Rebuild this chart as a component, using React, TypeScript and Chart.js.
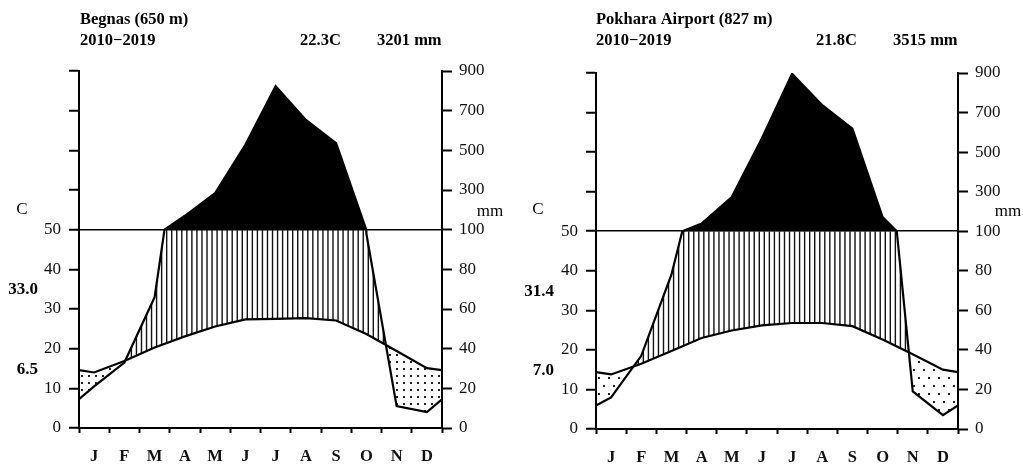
import React, { useEffect, useRef } from 'react';
import { Chart, registerables } from 'chart.js';

Chart.register(...registerables);
Chart.defaults.font.family = '"Liberation Serif", "Times New Roman", serif';

// ---------- data ----------
const months = ['J', 'F', 'M', 'A', 'M', 'J', 'J', 'A', 'S', 'O', 'N', 'D'];
const tempTickLabels = ['0', '10', '20', '30', '40', '50', '', '', '', ''];
const precipTickLabels = ['0', '20', '40', '60', '80', '100', '300', '500', '700', '900'];

// Begnas (650 m)
const begnasTemp = [14.0, 16.9, 20.3, 23.1, 25.6, 27.4, 27.5, 27.7, 27.1, 23.7, 19.4, 15.1];
const begnasTempEdge = 14.6;
const begnasPrecip = [21, 33, 66, 170, 284, 528, 824, 653, 536, 98, 11, 8];
const begnasPrecipEdge = 14.5;

// Pokhara Airport (827 m)
const pokharaTemp = [13.8, 16.5, 19.7, 23.0, 24.9, 26.2, 26.8, 26.8, 26.0, 22.6, 18.9, 15.0];
const pokharaTempEdge = 14.4;
const pokharaPrecip = [16, 37, 78, 139, 273, 570, 896, 737, 619, 172, 19, 7];
const pokharaPrecipEdge = 11.9;

// ---------- helpers ----------
type Pt = { x: number; y: number };

function precipDisplay(p: number) {
  return p <= 100 ? p / 2 : 50 + (p - 100) / 20;
}

function buildTemp(vals: number[], edge: number): Pt[] {
  const pts: Pt[] = [{ x: 0, y: edge }];
  vals.forEach((v, i) => pts.push({ x: i + 0.5, y: v }));
  pts.push({ x: 12, y: edge });
  return pts;
}

// precipitation in mm; the curve is linear in mm below 100 and compressed above
function buildPrecip(vals: number[], edge: number): Pt[] {
  const xs = [0, ...vals.map((_, i) => i + 0.5), 12];
  const raw = [edge, ...vals, edge];
  const pts: Pt[] = [];
  for (let i = 0; i < raw.length; i++) {
    if (i > 0) {
      const a = raw[i - 1];
      const b = raw[i];
      if ((a - 100) * (b - 100) < 0) {
        const f = (100 - a) / (b - a);
        pts.push({ x: xs[i - 1] + f * (xs[i] - xs[i - 1]), y: 50 });
      }
    }
    pts.push({ x: xs[i], y: precipDisplay(raw[i]) });
  }
  return pts;
}

type PanelCfg = {
  title: string;
  period: string;
  meanT: string;
  totalP: string;
  maxLabel: string;
  minLabel: string;
  temp: number[];
  tempEdge: number;
  precip: number[];
  precipEdge: number;
  left: number;
  width: number;
  leftW: number;
  rightW: number;
  top: number;
  bottomH: number;
  dotDx: number;
  dotDy: number;
  stagger: boolean;
  txt: {
    titleX: number;
    meanX: number;
    totX: number;
    cX: number;
    mmX: number;
    extRight: number;
    maxY: number;
    minY: number;
  };
};

const panels: PanelCfg[] = [
  {
    title: 'Begnas (650 m)',
    period: '2010\u22122019',
    meanT: '22.3C',
    totalP: '3201 mm',
    maxLabel: '33.0',
    minLabel: '6.5',
    temp: begnasTemp,
    tempEdge: begnasTempEdge,
    precip: begnasPrecip,
    precipEdge: begnasPrecipEdge,
    left: 0,
    width: 511,
    leftW: 79,
    rightW: 69,
    top: 71,
    bottomH: 38,
    dotDx: 7,
    dotDy: 7,
    stagger: false,
    txt: { titleX: 80, meanX: 300, totX: 377, cX: 22, mmX: 490, extRight: 38, maxY: 290, minY: 370 },
  },
  {
    title: 'Pokhara Airport (827 m)',
    period: '2010\u22122019',
    meanT: '21.8C',
    totalP: '3515 mm',
    maxLabel: '31.4',
    minLabel: '7.0',
    temp: pokharaTemp,
    tempEdge: pokharaTempEdge,
    precip: pokharaPrecip,
    precipEdge: pokharaPrecipEdge,
    left: 511,
    width: 512,
    leftW: 85,
    rightW: 65,
    top: 73,
    bottomH: 37,
    dotDx: 10,
    dotDy: 8,
    stagger: true,
    txt: { titleX: 85, meanX: 305, totX: 382, cX: 27, mmX: 497, extRight: 43, maxY: 292, minY: 371 },
  },
];

function Panel({ cfg }: { cfg: PanelCfg }) {
  const ref = useRef<HTMLCanvasElement | null>(null);

  useEffect(() => {
    if (!ref.current) return;
    const tempData = buildTemp(cfg.temp, cfg.tempEdge);
    const precipData = buildPrecip(cfg.precip, cfg.precipEdge);

    const fillPlugin = {
      id: 'walterFill',
      beforeDatasetsDraw(chart: any) {
        const { ctx, chartArea: a, scales } = chart;
        const xs = scales.x;
        const ys = scales.y;
        const tp = tempData.map((p) => [xs.getPixelForValue(p.x), ys.getPixelForValue(p.y)]);
        const pp = precipData.map((p) => [xs.getPixelForValue(p.x), ys.getPixelForValue(p.y)]);
        const y50 = ys.getPixelForValue(50);
        const poly = (pts: number[][], yClose: number) => {
          ctx.beginPath();
          ctx.moveTo(pts[0][0], pts[0][1]);
          for (let i = 1; i < pts.length; i++) ctx.lineTo(pts[i][0], pts[i][1]);
          ctx.lineTo(pts[pts.length - 1][0], yClose);
          ctx.lineTo(pts[0][0], yClose);
          ctx.closePath();
        };
        // black: precipitation above 100 mm
        ctx.save();
        ctx.beginPath();
        ctx.rect(a.left, a.top - 2, a.right - a.left, y50 - a.top + 2);
        ctx.clip();
        poly(pp, a.bottom);
        ctx.fillStyle = '#000';
        ctx.fill();
        ctx.restore();
        // vertical hatching: humid period
        ctx.save();
        ctx.beginPath();
        ctx.rect(a.left, y50, a.right - a.left, a.bottom - y50);
        ctx.clip();
        poly(pp, a.bottom);
        ctx.clip();
        poly(tp, a.top);
        ctx.clip();
        ctx.strokeStyle = '#111';
        ctx.lineWidth = 1.4;
        ctx.beginPath();
        for (let x = a.left + 2; x < a.right; x += 5.04) {
          ctx.moveTo(x, y50);
          ctx.lineTo(x, a.bottom);
        }
        ctx.stroke();
        ctx.restore();
        // dots: dry period
        ctx.save();
        poly(tp, a.bottom);
        ctx.clip();
        poly(pp, a.top);
        ctx.clip();
        ctx.fillStyle = '#222';
        let row = 0;
        for (let y = a.bottom - 3; y > a.top; y -= cfg.dotDy, row++) {
          const off = cfg.stagger && row % 2 ? cfg.dotDx / 2 : 0;
          for (let x = a.left + 3 + off; x < a.right; x += cfg.dotDx) {
            ctx.fillRect(x - 1, y - 1, 2, 2);
          }
        }
        ctx.restore();
      },
      afterDraw(chart: any) {
        const ctx = chart.ctx;
        const t = cfg.txt;
        ctx.save();
        ctx.fillStyle = '#000';
        ctx.textBaseline = 'middle';
        const put = (s: string, x: number, y: number, align: string, bold: boolean, size = 16) => {
          ctx.font = `${bold ? 'bold ' : ''}${size}px "Liberation Serif", "Times New Roman", serif`;
          ctx.textAlign = align;
          ctx.fillText(s, x, y);
        };
        put(cfg.title, t.titleX, 20, 'left', true, 16.5);
        put(cfg.period, t.titleX, 41, 'left', true, 16.5);
        put(cfg.meanT, t.meanX, 41, 'left', true, 16.5);
        put(cfg.totalP, t.totX, 41, 'left', true, 16.5);
        put('C', t.cX, 210, 'center', false, 17);
        put('mm', t.mmX, 212, 'center', false, 17);
        put(cfg.maxLabel, t.extRight, t.maxY, 'right', true, 17);
        put(cfg.minLabel, t.extRight, t.minY, 'right', true, 17);
        ctx.restore();
      },
    };

    const chart = new Chart(ref.current, {
      type: 'line',
      data: {
        datasets: [
          {
            data: tempData,
            borderColor: '#000',
            borderWidth: 2.2,
            pointRadius: 0,
            tension: 0,
            fill: false,
            yAxisID: 'y',
          },
          {
            data: precipData,
            borderColor: '#000',
            borderWidth: 2.2,
            pointRadius: 0,
            tension: 0,
            fill: false,
            yAxisID: 'y',
          },
        ],
      },
      options: {
        animation: false,
        responsive: false,
        events: [],
        layout: { padding: { top: cfg.top, left: 0, right: 0, bottom: 0 } },
        plugins: { legend: { display: false }, tooltip: { enabled: false } },
        scales: {
          x: {
            type: 'linear',
            min: 0,
            max: 12,
            afterFit: (s: any) => {
              s.height = cfg.bottomH;
            },
            ticks: {
              stepSize: 0.5,
              maxTicksLimit: 100,
              autoSkip: false,
              maxRotation: 0,
              minRotation: 0,
              padding: 14,
              color: '#111',
              font: { size: 16.5, weight: 'bold' },
              callback: (v: any) => (Math.abs((v % 1) - 0.5) < 1e-6 ? months[Math.floor(v)] : ''),
            },
            grid: {
              drawOnChartArea: false,
              tickLength: 5,
              tickWidth: 2,
              tickColor: (c: any) =>
                c.tick && Math.abs(c.tick.value - Math.round(c.tick.value)) < 1e-6 ? '#000' : 'rgba(0,0,0,0)',
            },
            border: { display: true, color: '#000', width: 2 },
          },
          y: {
            position: 'left',
            min: 0,
            max: 90,
            afterFit: (s: any) => {
              s.width = cfg.leftW;
            },
            ticks: {
              stepSize: 10,
              padding: 8,
              color: '#111',
              font: { size: 17 },
              callback: (_v: any, i: number) => tempTickLabels[i],
            },
            grid: {
              color: (c: any) => (c.tick && c.tick.value === 50 ? '#000' : 'rgba(0,0,0,0)'),
              lineWidth: 1.5,
              tickLength: 10,
              tickWidth: 2,
              tickColor: '#000',
            },
            border: { display: true, color: '#000', width: 2 },
          },
          y2: {
            position: 'right',
            min: 0,
            max: 90,
            afterFit: (s: any) => {
              s.width = cfg.rightW;
            },
            ticks: {
              stepSize: 10,
              padding: 7,
              color: '#111',
              font: { size: 17 },
              callback: (_v: any, i: number) => precipTickLabels[i],
            },
            grid: {
              drawOnChartArea: false,
              tickLength: 10,
              tickWidth: 2,
              tickColor: '#000',
            },
            border: { display: true, color: '#000', width: 2 },
          },
        },
      } as any,
      plugins: [fillPlugin],
    });
    return () => chart.destroy();
  }, [cfg]);

  return (
    <canvas
      ref={ref}
      width={cfg.width}
      height={466}
      style={{ position: 'absolute', left: cfg.left, top: 0, width: cfg.width, height: 466 }}
    />
  );
}

export default function App() {
  return (
    <div style={{ position: 'absolute', left: 0, top: 0, width: 1023, height: 466, background: '#fff' }}>
      {panels.map((p) => (
        <Panel key={p.title} cfg={p} />
      ))}
    </div>
  );
}
